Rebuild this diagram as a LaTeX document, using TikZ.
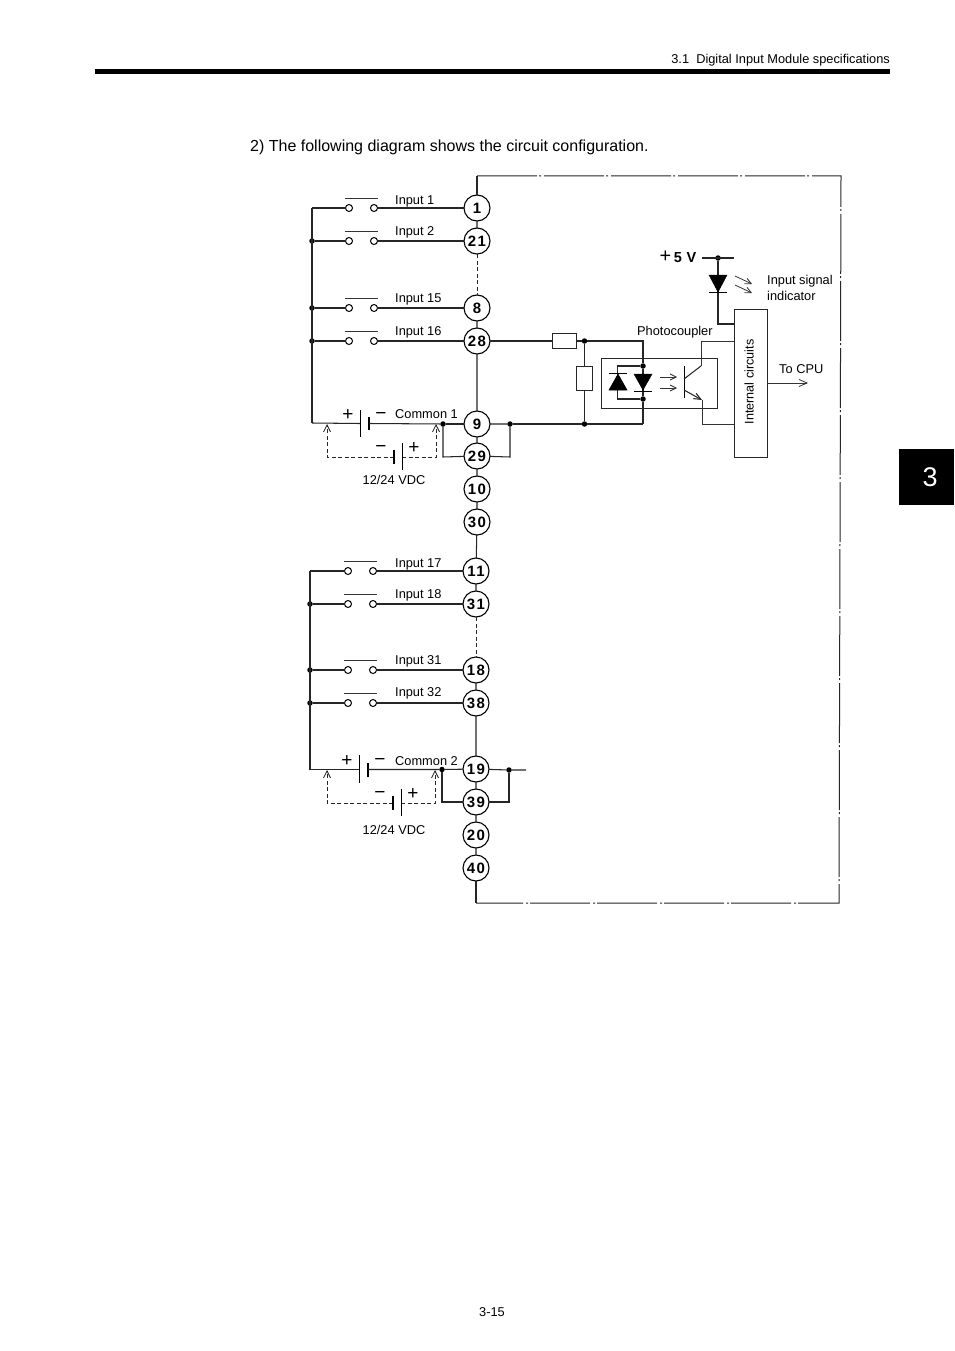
\documentclass[tikz,border=0pt]{standalone}
\usepackage{fontspec}
\setmainfont{Liberation Sans}
\newfontfamily\termfont[LetterSpace=9]{Liberation Sans}
\usetikzlibrary{arrows.meta}
\tikzset{
  wire/.style={line width=1.05pt,draw=black!85},
  thinwire/.style={line width=0.8pt,draw=black!80},
  dashwire/.style={line width=0.9pt,draw=black!85,dash pattern=on 4pt off 2.5pt},
  openarrow/.style={-{Straight Barb[length=7pt,width=7pt,line width=0.8pt]}},
  term/.style={circle,draw=black,line width=1.1pt,minimum size=26pt,inner sep=0pt,outer sep=0pt,font=\termfont\fontsize{15}{15}\selectfont\bfseries},
  contact/.style={circle,draw=black,line width=1pt,minimum size=7pt,inner sep=0pt,outer sep=0pt},
  jdot/.style={circle,fill=black,minimum size=5.5pt,inner sep=0pt,outer sep=0pt},
  lbl/.style={anchor=mid west,inner sep=0pt,yshift=-2pt,font=\fontsize{12.8}{15}\selectfont},
  clbl/.style={anchor=mid,inner sep=0pt,yshift=-2pt,font=\fontsize{12.8}{15}\selectfont},
  sign/.style={anchor=center,inner sep=0pt,yshift=-1.5pt,font=\fontsize{19}{19}\selectfont},
  boxed/.style={draw=black!85,line width=1pt,inner sep=0pt,outer sep=0pt},
  outerframe/.style={line width=1pt,draw=black!85,dash pattern=on 60pt off 2pt on 2pt off 3pt},
  plate/.style={line width=1pt,draw=black},
  thickplate/.style={line width=2.4pt,draw=black},
  solidtri/.style={fill=black,draw=black,line width=0.5pt}
}
\newcommand{\termnode}[3]{\node[term] (t#1) at (#2,#3) {#1};}
\newcommand{\swrow}[7]{% id, bus x, left contact x, right contact x, y, label, label y
  \node[contact] (s#1l) at (#3,#5) {};
  \node[contact] (s#1r) at (#4,#5) {};
  \draw[thinwire] (#3-4,#5-10) -- (#4+4,#5-10);
  \node[lbl] (l#1) at (395,#7) {#6};
}
\begin{document}
\begin{tikzpicture}[x=1pt,y=-1pt]
\useasboundingbox (0,0) rectangle (954,1351);
\fill[white] (0,0) rectangle (954,1351);
% page furniture
\node[anchor=mid east,inner sep=0pt,yshift=-2pt,font=\fontsize{12.8}{15}\selectfont] (hdr) at (890,59) {3.1\ \ Digital Input Module specifications};
\node[fill=black,minimum width=795pt,minimum height=5pt,inner sep=0pt,anchor=north west] (bar) at (95,69) {};
\node[fill=black,minimum width=55pt,minimum height=56pt,inner sep=0pt,anchor=north west] (tab) at (899,449) {};
\node[text=white,inner sep=0pt,font=\fontsize{27}{27}\selectfont] (tabn) at (930,477) {3};
\node[anchor=mid west,inner sep=0pt,yshift=-3pt,font=\fontsize{16}{19}\selectfont] (head) at (250,146) {2) The following diagram shows the circuit configuration.};
\node[anchor=mid,inner sep=0pt,yshift=-3pt,font=\fontsize{12.8}{15}\selectfont] (pg) at (492,1311) {3-15};
% terminals
\termnode{1}{477}{208}
\termnode{21}{477}{241}
\termnode{8}{477}{308}
\termnode{28}{477}{341}
\termnode{9}{477}{424}
\termnode{29}{477}{456}
\termnode{10}{477}{489}
\termnode{30}{477}{522}
\termnode{11}{476}{571}
\termnode{31}{476}{604}
\termnode{18}{476}{670}
\termnode{38}{476}{703}
\termnode{19}{476}{769}
\termnode{39}{476}{802}
\termnode{20}{476}{835}
\termnode{40}{476}{868}
% terminal chain
\draw[wire] (t1)--(t21) (t8)--(t28) (t28)--(t9) (t9)--(t29) (t29)--(t10) (t10)--(t30) (t30)--(t11)
  (t11)--(t31) (t18)--(t38) (t38)--(t19) (t19)--(t39) (t39)--(t20) (t20)--(t40);
\draw[dashwire] (t21)--(t8) (t31)--(t18);
% outer frame
\coordinate (fa) at (477,176);
\coordinate (fb) at (841,176);
\coordinate (fc) at (839,903);
\coordinate (fd) at (476,903);
\draw[wire] (t1)--(fa);
\draw[outerframe] (fa)--(fb)--(fc)--(fd);
\draw[wire] (t40)--(fd);
% switches group 1
\swrow{1}{312}{349}{374}{208}{Input 1}{200}
\swrow{2}{312}{349}{374}{241}{Input 2}{231}
\swrow{15}{312}{349}{374}{308}{Input 15}{298}
\swrow{16}{312}{349}{374}{341}{Input 16}{331}
\coordinate (ba) at (312,208);
\node[jdot] (j2) at (312,241) {};
\node[jdot] (j15) at (312,308) {};
\node[jdot] (j16) at (312,341) {};
\coordinate (bb) at (312,423);
\draw[wire] (ba)--(bb);
\draw[wire] (ba)--(s1l) (j2)--(s2l) (j15)--(s15l) (j16)--(s16l);
\draw[wire] (s1r)--(t1) (s2r)--(t21) (s15r)--(t8) (s16r)--(t28);
% common 1
\node[jdot] (c1a) at (443,424) {};
\node[jdot] (c1b) at (510,424) {};
\coordinate (b1l) at (360,423.5);
\coordinate (b1r) at (369,423.5);
\draw[wire] (bb)--(b1l);
\draw[plate] (360,410)--(360,437);
\draw[thickplate] (369,417)--(369,430);
\draw[wire] (b1r)--(c1a);
\draw[wire] (c1a)--(t9);
\coordinate (c1c) at (443,457);
\coordinate (c1d) at (510,457);
\draw[wire] (c1a)--(c1c)--(t29);
\draw[wire] (t9)--(c1b)--(c1d)--(t29);
\node[sign] (p1a) at (348,414) {+};
\node[sign] (m1a) at (381,414) {−};
\node[sign] (m1b) at (381,447) {−};
\node[sign] (p1b) at (414,447) {+};
\node[lbl] (lc1) at (395,414) {Common 1};
\node[clbl] (v1) at (394,480) {12/24 VDC};
% alternative battery 1
\coordinate (a1l) at (327,424);
\coordinate (a1r) at (436,424);
\coordinate (d1l) at (327,457);
\coordinate (d1r) at (436,457);
\coordinate (b2l) at (394,457);
\coordinate (b2r) at (402,457);
\draw[dashwire,openarrow] (b2l)--(d1l)--(a1l);
\draw[dashwire,openarrow] (b2r)--(d1r)--(a1r);
\draw[thickplate] (394,450)--(394,464);
\draw[plate] (402,443)--(402,470);
% input circuit
\node[boxed,minimum width=24pt,minimum height=15.5pt] (r1) at (564,341) {};
\node[boxed,minimum width=16pt,minimum height=24pt] (r2) at (584.5,378) {};
\node[jdot] (n1) at (584.5,341) {};
\node[jdot] (n2) at (584.5,424) {};
\node[boxed,anchor=north west,minimum width=116pt,minimum height=50pt] (pc) at (601,358) {};
\node[jdot] (n3) at (643,366) {};
\node[jdot] (n4) at (643,399) {};
\coordinate (n5) at (643,341);
\coordinate (n6) at (643,424);
\draw[wire] (t28)--(r1);
\draw[wire] (r1)--(n1)--(n5)--(n3);
\draw[wire] (n3)--(n4)--(n6);
\draw[wire] (c1b)--(n2)--(n6);
\draw[wire] (n1)--(r2)--(n2);
\coordinate (k1) at (617.5,366);
\coordinate (k2) at (617.5,399);
\draw[wire] (n3)--(k1)--(k2)--(n4);
\draw[solidtri] (609,390)--(627,390)--(618,374)--cycle;
\draw[plate] (609,373)--(627,373);
\draw[solidtri] (634,374)--(652,374)--(643,390)--cycle;
\draw[plate] (634,391)--(652,391);
\draw[thinwire,-{Straight Barb[length=6pt,width=6pt]}] (660,377)--(677,377);
\draw[thinwire,-{Straight Barb[length=6pt,width=6pt]}] (660,388)--(677,388);
% transistor
\draw[plate] (684,366)--(684,398);
\coordinate (q1) at (701,366);
\coordinate (q2) at (702,400);
\draw[wire] (684,379)--(q1);
\draw[wire,-{Straight Barb[length=7pt,width=6pt]}] (684,390)--(q2);
% internal circuits
\node[boxed,anchor=north west,minimum width=33pt,minimum height=148pt] (ic) at (734,309) {};
\node[inner sep=0pt,rotate=90,anchor=mid,xshift=0pt,font=\fontsize{12.6}{15}\selectfont] (ict) at (751,382) {Internal circuits};
\coordinate (q3) at (701,341);
\coordinate (q4) at (734,341);
\coordinate (q5) at (702,424);
\coordinate (q6) at (734,424);
\draw[thinwire] (q1)--(q3)--(q4);
\draw[thinwire] (q2)--(q5)--(q6);
% LED and +5 V
\node[anchor=mid,inner sep=0pt,yshift=-2pt,font=\fontsize{14.5}{15}\selectfont\bfseries] (v5) at (678,258) {{\fontsize{20}{20}\selectfont\mdseries +}\,5\,\,V};
\coordinate (w1) at (702,258);
\coordinate (w2) at (734,258);
\node[jdot] (n7) at (718,258) {};
\draw[wire] (w1)--(w2);
\coordinate (n8) at (718,324);
\coordinate (n9) at (734,324);
\draw[wire] (n7)--(n8)--(n9);
\draw[solidtri] (709,275)--(727,275)--(718,292)--cycle;
\draw[plate] (709,292.5)--(727,292.5);
\draw[thinwire,-{Straight Barb[length=6pt,width=6pt]}] (735,276)--(752,284);
\draw[thinwire,-{Straight Barb[length=6pt,width=6pt]}] (735,285)--(752,293);
\node[lbl] (isi1) at (767,280) {Input signal};
\node[lbl] (isi2) at (767,296) {indicator};
\node[lbl] (pcl) at (637,331) {Photocoupler};
\node[lbl] (cpu) at (779,369) {To CPU};
\coordinate (cpua) at (808,383);
\draw[thinwire,-{Straight Barb[length=8pt,width=7pt]}] (767,383)--(cpua);
% switches group 2
\swrow{17}{310}{348}{373}{571}{Input 17}{563}
\swrow{18}{310}{348}{373}{604}{Input 18}{594}
\swrow{31}{310}{348}{373}{670}{Input 31}{660}
\swrow{32}{310}{348}{373}{703}{Input 32}{692}
\coordinate (bc) at (310,571);
\node[jdot] (j18) at (310,604) {};
\node[jdot] (j31) at (310,670) {};
\node[jdot] (j32) at (310,703) {};
\coordinate (bd) at (310,769.5);
\draw[wire] (bc)--(bd);
\draw[wire] (bc)--(s17l) (j18)--(s18l) (j31)--(s31l) (j32)--(s32l);
\draw[wire] (s17r)--(t11) (s18r)--(t31) (s31r)--(t18) (s32r)--(t38);
% common 2
\node[jdot] (c2a) at (442,769.5) {};
\node[jdot] (c2b) at (509,770) {};
\coordinate (b3l) at (359,769.5);
\coordinate (b3r) at (368,769.5);
\draw[wire] (bd)--(b3l);
\draw[plate] (359,755)--(359,783);
\draw[thickplate] (368,763)--(368,777);
\draw[wire] (b3r)--(c2a)--(t19);
\coordinate (c2c) at (442,802);
\coordinate (c2d) at (509,802);
\coordinate (c2e) at (526,770);
\draw[wire] (c2a)--(c2c)--(t39);
\draw[wire] (t19)--(c2b)--(c2e);
\draw[wire] (c2b)--(c2d)--(t39);
\node[sign] (p2a) at (347,760) {+};
\node[sign] (m2a) at (380,760) {−};
\node[sign] (m2b) at (380,793) {−};
\node[sign] (p2b) at (413,793) {+};
\node[lbl] (lc2) at (395,761) {Common 2};
\node[clbl] (v2) at (394,830) {12/24 VDC};
\coordinate (a2l) at (327,770);
\coordinate (a2r) at (435,770);
\coordinate (d2l) at (327,803);
\coordinate (d2r) at (435,803);
\coordinate (b4l) at (393,803);
\coordinate (b4r) at (401,803);
\draw[dashwire,openarrow] (b4l)--(d2l)--(a2l);
\draw[dashwire,openarrow] (b4r)--(d2r)--(a2r);
\draw[thickplate] (393,796)--(393,810);
\draw[plate] (401,789)--(401,816);
\end{tikzpicture}
\end{document}
